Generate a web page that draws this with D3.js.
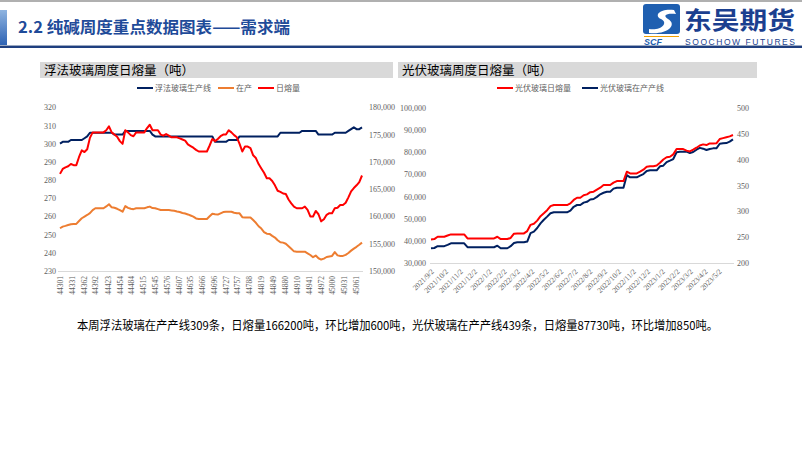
<!DOCTYPE html>
<html><head><meta charset="utf-8">
<script src="https://cdn.jsdelivr.net/npm/d3@7"></script>
<style>
body{margin:0;background:#fff;}
svg{display:block;font-family:"Noto Sans CJK SC","Noto Sans",sans-serif;}
</style></head>
<body>
<svg id="c" width="802" height="451"></svg>
<script>
// ---------- DATA ----------
const pageTitle = "2.2 纯碱周度重点数据图表——需求端";
const leftTitle = "浮法玻璃周度日熔量（吨）";
const rightTitle = "光伏玻璃周度日熔量（吨）";
const footerText = "本周浮法玻璃在产产线309条，日熔量166200吨，环比增加600吨，光伏玻璃在产产线439条，日熔量87730吨，环比增加850吨。";

// Left chart: weekly, x = Excel serial date
const floatStart = 44301;
const floatTickLabels = [44301,44331,44362,44392,44423,44454,44484,44515,44545,44576,44607,44635,44666,44696,44727,44757,44788,44819,44849,44880,44910,44941,44972,45000,45031,45061];
const floatLeftTicks = [230,240,250,260,270,280,290,300,310,320];
const floatRightTicks = [150000,155000,160000,165000,170000,175000,180000];
const floatLines = [300,301,301,301,302,302,302,302,302,303,304,
 306,306,306,306,306,306,306,306,306,
 305,305,305,305,
 307,307,307,307,307,307,307,307,307,307,
 305,
 304,304,304,304,304,304,304,304,304,304,304,304,304,304,304,304,304,304,304,304,304,304,
 301,301,301,301,301,
 302,302,302,302,
 304,304,304,304,304,304,304,304,304,304,304,304,304,304,304,
 306,306,306,306,306,306,306,306,
 307,307,307,307,307,307,
 305,305,305,305,305,305,
 306,306,306,306,306,
 307,308,309,308,308,309];
const floatInProd = [253.5,254.4,254.8,255.3,255.7,255.9,255.9,257.5,259.0,259.9,260.8,261.8,263.5,264.5,264.5,264.5,264.5,265.5,266.7,265.0,
 264.8,264.2,263.5,262.6,265.7,264.7,264.2,264.0,264.5,264.5,264.5,264.5,265.0,265.4,264.6,264.5,264.0,263.5,263.5,263.5,
 263.5,263.3,263.1,262.7,262.4,261.9,261.6,261.1,260.5,259.9,258.9,258.6,258.6,258.6,258.6,260.1,261.5,261.2,261.0,261.7,
 262.4,262.6,262.6,262.6,262.0,261.7,261.7,259.6,259.4,259.4,259.4,258.0,256.5,254.6,253.3,251.4,250.5,250.4,249.3,248.4,
 246.9,245.8,245.6,245.0,243.6,242.2,240.8,240.6,240.6,240.6,240.6,239.7,238.8,237.6,238.5,237.0,236.3,236.8,237.7,238.0,
 238.3,240.4,238.6,238.3,238.3,238.9,239.9,241.2,242.3,243.3,244.4,245.6];
const floatMelt = [167800,168700,169000,169200,169600,169400,169400,170900,172100,171800,172300,174400,175400,175400,175400,175400,175400,175800,176500,175400,
 175000,174600,173800,173300,175800,175400,174900,174700,175400,175400,175400,175400,176200,176800,175800,175800,175800,175000,174800,175100,
 174800,174500,174500,174500,174300,174100,173900,173200,172900,172600,172200,171900,171900,171900,171900,173000,174200,173800,174200,174700,
 175000,175000,175800,175400,174900,174500,173300,171900,172800,172800,172500,171200,170700,169600,168800,168000,167000,167000,166500,165700,
 164700,164500,164200,164100,163100,162400,161800,161500,161500,161500,161800,161200,160000,160000,161000,160400,159100,159500,160300,160600,
 160600,161500,161600,162100,162100,162500,163500,164600,165200,165700,166300,167500];

// Right chart: weekly from 2021/9/2
const pvStart = "2021-09-02";
const pvTickLabels = ["2021/9/2","2021/10/2","2021/11/2","2021/12/2","2022/1/2","2022/2/2","2022/3/2","2022/4/2","2022/5/2","2022/6/2","2022/7/2","2022/8/2","2022/9/2","2022/10/2","2022/11/2","2022/12/2","2023/1/2","2023/2/2","2023/3/2","2023/4/2","2023/5/2"];
const pvLeftTicks = [30000,40000,50000,60000,70000,80000,90000,100000];
const pvRightTicks = [200,250,300,350,400,450,500];
const pvMelt = [40750,40900,41950,41950,41950,42500,43000,43000,43000,43000,43000,41200,41200,41200,41200,41200,41200,41200,41200,41200,
 41950,40900,40900,40900,41400,43300,43450,43450,43450,44500,47300,47800,49200,51200,52500,53900,55700,56200,56200,56200,
 56200,56200,56950,58500,59500,59500,60600,61000,62000,62200,63100,64000,65200,65200,65200,66300,67000,67000,67000,71200,
 70450,70450,70450,71200,72100,73450,73700,73700,74000,75200,76700,77700,77950,79000,81400,81400,81400,80700,80300,81100,
 82000,83000,83500,83200,83950,83950,84000,85900,86300,86700,87100,87700];
const pvLines = [229,229.5,233,233,233,235.5,238.5,238.5,238.5,238.5,238.5,231,231,231,231,231,231,231,231,231,
 234,229,229,229,233,239,240.5,240.5,240.5,242,258,261,268,277,284,290,296.5,298.3,298.3,298.3,
 298.3,298.3,301.5,309,312.4,312.4,317,318.5,323,324,328,333,336,338,338,344,345.8,345.8,345.8,370,
 365.7,365.7,365.7,369,372,378,379.2,379.2,379.2,387,388.2,395,397.9,401,414,415.2,415.2,415.2,412.5,414.5,
 419,422.5,421,418.4,420.5,421.6,421.6,430.5,431.3,431.8,434.5,439];

// ---------- DRAW ----------
const svg = d3.select("#c");
const NAVY = "#002060", ORANGE = "#ED7D31", RED = "#FF0000", AX = "#606060";
const serif = "'Liberation Serif','Times New Roman',serif";

// header
svg.append("rect").attr("x",0).attr("y",0).attr("width",802).attr("height",2).attr("fill","#b0b0b0");
const g1 = svg.append("defs").append("linearGradient").attr("id","bar").attr("x1",0).attr("y1",0).attr("x2",0).attr("y2",1);
g1.append("stop").attr("offset","0").attr("stop-color","#8fb4e0");
g1.append("stop").attr("offset","1").attr("stop-color","#2e63b4");
svg.append("rect").attr("x",0).attr("y",10).attr("width",7).attr("height",35).attr("fill","url(#bar)");
svg.append("text").attr("x",18).attr("y",33).attr("font-size",16).attr("font-weight","bold")
  .attr("fill","#1f4b99").attr("textLength",272).attr("lengthAdjust","spacingAndGlyphs").text(pageTitle);
svg.append("rect").attr("x",0).attr("y",45).attr("width",802).attr("height",1).attr("fill","#9aa8c0");
svg.append("rect").attr("x",0).attr("y",46).attr("width",802).attr("height",2).attr("fill","#1f3f7f");
// logo
svg.append("rect").attr("x",643).attr("y",4).attr("width",37).attr("height",30).attr("rx",3).attr("fill","#1f5fb0");
svg.append("path").attr("d","M649,29 C661,31 669,23 661,19 C653,15 661,8 674,10 L676,14 C665,13 663,16 668,19 C678,25 667,35 649,33 Z").attr("fill","#fff");
svg.append("text").attr("x",644).attr("y",45).attr("font-size",9).attr("font-weight","bold").attr("font-style","italic")
  .attr("fill","#1f5fb0").attr("font-family","'Liberation Sans',sans-serif").text("SCF");
svg.append("rect").attr("x",644).attr("y",36).attr("width",35).attr("height",1).attr("fill","#f0a000");
svg.append("text").attr("x",684).attr("y",29).attr("font-size",24).attr("font-weight","bold").attr("fill","#1b3f8f")
  .attr("textLength",111).attr("lengthAdjust","spacingAndGlyphs").text("东吴期货");
svg.append("text").attr("x",685).attr("y",44.5).attr("font-size",8.5).attr("fill","#1b3f8f")
  .attr("font-family","'Liberation Sans',sans-serif").attr("textLength",110).text("SOOCHOW FUTURES");

// chart title bars
function titleBar(x,w,t){
  svg.append("rect").attr("x",x).attr("y",62).attr("width",w).attr("height",16).attr("fill","#d9d9d9");
  svg.append("text").attr("x",x+4).attr("y",74.5).attr("font-size",12.5).attr("fill","#000").text(t);
}
titleBar(40,353,leftTitle);
titleBar(398,359,rightTitle);

function legend(items,y){
  items.forEach(it=>{
    svg.append("line").attr("x1",it.x).attr("x2",it.x+16).attr("y1",y).attr("y2",y).attr("stroke",it.c).attr("stroke-width",2);
    svg.append("text").attr("x",it.x+18).attr("y",y+3).attr("font-size",8).attr("fill",AX).text(it.t);
  });
}
legend([{x:137,c:NAVY,t:"浮法玻璃生产线"},{x:218,c:ORANGE,t:"在产"},{x:258,c:RED,t:"日熔量"}],88);
legend([{x:497,c:RED,t:"光伏玻璃日熔量"},{x:582,c:NAVY,t:"光伏玻璃在产产线"}],88);

// ---------- left chart ----------
const fDates = floatMelt.map((_,i)=>floatStart+7*i);
const fx = d3.scaleLinear().domain([44301,45078]).range([60,362]);
const fyL = d3.scaleLinear().domain([230,320]).range([271,107.3]);
const fyR = d3.scaleLinear().domain([150000,180000]).range([271,107.3]);

svg.append("line").attr("x1",58).attr("x2",363).attr("y1",271.5).attr("y2",271.5).attr("stroke","#d9d9d9");
const gL = svg.append("g").attr("transform","translate(56,0)")
  .call(d3.axisLeft(fyL).tickValues(floatLeftTicks).tickSize(0).tickPadding(0));
const gR = svg.append("g").attr("transform","translate(369,0)")
  .call(d3.axisRight(fyR).tickValues(floatRightTicks).tickSize(0).tickPadding(0));
[gL,gR].forEach(g=>{g.select(".domain").remove();g.selectAll("text").attr("font-family",serif).attr("font-size",8).attr("fill",AX);});
const gX = svg.append("g").attr("transform","translate(0,271)")
  .call(d3.axisBottom(fx).tickValues(floatTickLabels).tickFormat(d3.format("d")).tickSize(0));
gX.select(".domain").remove();
gX.selectAll("text").attr("font-family",serif).attr("font-size",7.5).attr("fill",AX)
  .attr("transform","rotate(-90)").attr("text-anchor","end").attr("x",-5).attr("y",0).attr("dy","0.35em");

const lineF = (ys,sc)=>d3.line().x((d,i)=>fx(fDates[i])).y(d=>sc(d))(ys);
svg.append("path").attr("d",lineF(floatInProd,fyL)).attr("fill","none").attr("stroke",ORANGE).attr("stroke-width",2).attr("stroke-linejoin","round");
svg.append("path").attr("d",lineF(floatLines,fyL)).attr("fill","none").attr("stroke",NAVY).attr("stroke-width",2).attr("stroke-linejoin","round");
svg.append("path").attr("d",lineF(floatMelt,fyR)).attr("fill","none").attr("stroke",RED).attr("stroke-width",2).attr("stroke-linejoin","round");

// ---------- right chart ----------
const t0 = new Date(pvStart+"T00:00:00");
const pDates = pvMelt.map((_,i)=>d3.timeDay.offset(t0,7*i));
const px = d3.scaleTime().domain([t0,d3.timeDay.offset(t0,637)]).range([431,733]);
const pyL = d3.scaleLinear().domain([30000,100000]).range([263.3,107.7]);
const pyR = d3.scaleLinear().domain([200,500]).range([263.3,107.7]);
const parseT = s=>{const [y,m,d]=s.split("/").map(Number);return new Date(y,m-1,d);};

svg.append("line").attr("x1",430).attr("x2",734).attr("y1",263.5).attr("y2",263.5).attr("stroke","#d9d9d9");
const hL = svg.append("g").attr("transform","translate(426,0)")
  .call(d3.axisLeft(pyL).tickValues(pvLeftTicks).tickSize(0).tickPadding(0));
const hR = svg.append("g").attr("transform","translate(737,0)")
  .call(d3.axisRight(pyR).tickValues(pvRightTicks).tickSize(0).tickPadding(0));
[hL,hR].forEach(g=>{g.select(".domain").remove();g.selectAll("text").attr("font-family",serif).attr("font-size",8).attr("fill",AX);});
const hX = svg.append("g").attr("transform","translate(0,263)")
  .call(d3.axisBottom(px).tickValues(pvTickLabels.map(parseT)).tickFormat((d,i)=>pvTickLabels[i]).tickSize(0));
hX.select(".domain").remove();
hX.selectAll("text").attr("font-family",serif).attr("font-size",7.5).attr("fill",AX)
  .attr("text-anchor","end").attr("y",0).attr("dy",0)
  .attr("transform","translate(3,9) rotate(-45)");

const lineP = (ys,sc)=>d3.line().x((d,i)=>px(pDates[i])).y(d=>sc(d))(ys);
svg.append("path").attr("d",lineP(pvLines,pyR)).attr("fill","none").attr("stroke",NAVY).attr("stroke-width",2).attr("stroke-linejoin","round");
svg.append("path").attr("d",lineP(pvMelt,pyL)).attr("fill","none").attr("stroke",RED).attr("stroke-width",2).attr("stroke-linejoin","round");

// footer
svg.append("text").attr("x",77).attr("y",330).attr("font-size",12).attr("fill","#000")
  .attr("textLength",641).attr("lengthAdjust","spacingAndGlyphs").text(footerText);
</script>
</body></html>
